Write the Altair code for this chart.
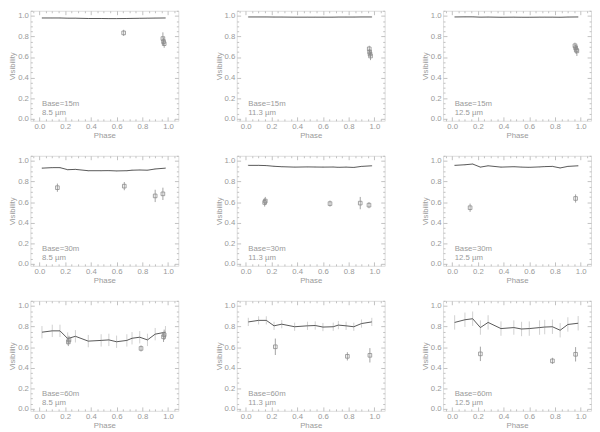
import altair as alt
import pandas as pd

# ---------------- data ----------------
bases = ["Base=15m", "Base=30m", "Base=60m"]
wavelengths = ["8.5 \u00b5m", "11.3 \u00b5m", "12.5 \u00b5m"]

model_phase = [0.02, 0.10, 0.16, 0.22, 0.28, 0.38, 0.48, 0.54, 0.60, 0.68, 0.72, 0.78, 0.84, 0.90, 0.98]

model_15_85 = [0.980, 0.980, 0.980, 0.978, 0.978, 0.975, 0.975, 0.974, 0.974, 0.975, 0.976, 0.977, 0.978, 0.979, 0.980]
model_15_113 = [0.990, 0.990, 0.990, 0.989, 0.989, 0.988, 0.988, 0.988, 0.988, 0.988, 0.989, 0.989, 0.989, 0.990, 0.990]
model_15_125 = [0.990, 0.991, 0.991, 0.988, 0.989, 0.987, 0.988, 0.987, 0.987, 0.988, 0.988, 0.988, 0.987, 0.989, 0.990]
model_30_85 = [0.930, 0.935, 0.935, 0.915, 0.918, 0.905, 0.905, 0.906, 0.903, 0.905, 0.910, 0.912, 0.910, 0.922, 0.930]
model_30_113 = [0.957, 0.957, 0.955, 0.948, 0.944, 0.940, 0.942, 0.941, 0.940, 0.941, 0.938, 0.940, 0.937, 0.947, 0.953]
model_30_125 = [0.957, 0.963, 0.970, 0.940, 0.953, 0.940, 0.944, 0.940, 0.938, 0.942, 0.945, 0.947, 0.932, 0.947, 0.953]
model_60_85 = [0.745, 0.758, 0.758, 0.683, 0.705, 0.658, 0.665, 0.670, 0.652, 0.665, 0.686, 0.696, 0.670, 0.726, 0.745]
model_60_113 = [0.845, 0.860, 0.860, 0.807, 0.823, 0.798, 0.807, 0.810, 0.795, 0.798, 0.814, 0.807, 0.798, 0.829, 0.845]
model_60_125 = [0.840, 0.866, 0.876, 0.790, 0.840, 0.780, 0.790, 0.776, 0.780, 0.790, 0.795, 0.798, 0.764, 0.820, 0.832]
model_vis = [model_15_85, model_15_113, model_15_125,
             model_30_85, model_30_113, model_30_125,
             model_60_85, model_60_113, model_60_125]
model_err = [0.004, 0.004, 0.004, 0.006, 0.006, 0.006, 0.06, 0.04, 0.07]

obs_phase = [
    [0.655, 0.960, 0.965, 0.970],
    [0.960, 0.963, 0.966, 0.970],
    [0.955, 0.960, 0.965, 0.970],
    [0.140, 0.660, 0.900, 0.960],
    [0.147, 0.152, 0.655, 0.890, 0.958],
    [0.140, 0.960],
    [0.225, 0.230, 0.790, 0.965, 0.970],
    [0.230, 0.790, 0.965],
    [0.220, 0.780, 0.960],
]
obs_vis = [
    [0.835, 0.780, 0.750, 0.730],
    [0.680, 0.650, 0.630, 0.610],
    [0.710, 0.690, 0.670, 0.660],
    [0.740, 0.755, 0.660, 0.680],
    [0.596, 0.610, 0.585, 0.590, 0.570],
    [0.545, 0.635],
    [0.650, 0.670, 0.587, 0.700, 0.720],
    [0.603, 0.510, 0.520],
    [0.534, 0.466, 0.530],
]
obs_err = [
    [0.030, 0.060, 0.040, 0.040],
    [0.030, 0.030, 0.030, 0.040],
    [0.030, 0.030, 0.040, 0.050],
    [0.040, 0.040, 0.060, 0.060],
    [0.040, 0.040, 0.030, 0.060, 0.030],
    [0.040, 0.040],
    [0.040, 0.040, 0.030, 0.050, 0.050],
    [0.080, 0.040, 0.070],
    [0.070, 0.030, 0.070],
]

major = [0.0, 0.2, 0.4, 0.6, 0.8, 1.0]
minor = [round(0.05 * i, 2) for i in range(-1, 22) if i % 4 != 0]
minor_x = [v for v in minor if -0.07 <= v <= 1.08]
minor_y = [v for v in minor if -0.02 <= v <= 1.05]

GREY_TXT = "#9a9a9a"
GREY_AX = "#b0b0b0"

xs = alt.Scale(domain=[-0.07, 1.08], nice=False, zero=False)
ys = alt.Scale(domain=[-0.02, 1.05], nice=False, zero=False)


def tick_axis(orient, vals, size):
    return alt.Axis(orient=orient, values=vals, labels=False, title=None,
                    domain=False, grid=False, ticks=True, tickSize=size,
                    offset=-size, tickColor=GREY_AX, tickWidth=0.8,
                    minExtent=0, maxExtent=0)


def lab_axis(orient, title):
    return alt.Axis(orient=orient, values=major, format=".1f", title=title,
                    ticks=False, domain=False, grid=False, labelPadding=2,
                    titlePadding=1, labelColor=GREY_TXT, titleColor=GREY_TXT,
                    labelFontSize=8, titleFontSize=8, labelFont="Liberation Sans",
                    titleFont="Liberation Sans", titleFontWeight="normal",
                    minExtent=0)


W, H = 152, 113


def make_panel(k):
    r, c = divmod(k, 3)
    mdf = pd.DataFrame({"phase": model_phase, "vis": model_vis[k]})
    mdf["lo"] = mdf["vis"] - model_err[k]
    mdf["hi"] = mdf["vis"] + model_err[k]
    odf = pd.DataFrame({"phase": obs_phase[k], "vis": obs_vis[k], "err": obs_err[k]})
    odf["lo"] = odf["vis"] - odf["err"]
    odf["hi"] = odf["vis"] + odf["err"]
    adf = pd.DataFrame({"phase": [0.02, 0.02], "vis": [0.14, 0.055],
                        "label": [bases[r], wavelengths[c]]})

    merr = alt.Chart(mdf).mark_rule(color="#c4c4c4", strokeWidth=0.8).encode(
        x=alt.X("phase:Q", scale=xs, axis=lab_axis("bottom", "Phase")),
        y=alt.Y("lo:Q", scale=ys, axis=lab_axis("left", "Visibility")),
        y2="hi:Q",
    )
    mline = alt.Chart(mdf).mark_line(color="#555555", strokeWidth=1).encode(
        x=alt.X("phase:Q", scale=xs, axis=tick_axis("top", major, 4)),
        y=alt.Y("vis:Q", scale=ys, axis=tick_axis("right", major, 4)),
    )
    oerr = alt.Chart(odf).mark_rule(color="#8a8a8a", strokeWidth=0.8).encode(
        x=alt.X("phase:Q", scale=xs, axis=tick_axis("bottom", major, 4)),
        y=alt.Y("lo:Q", scale=ys, axis=tick_axis("left", major, 4)),
        y2="hi:Q",
    )
    opts = alt.Chart(odf).mark_point(shape="square", filled=False, size=14,
                                     color="#8a8a8a", strokeWidth=0.8, opacity=1).encode(
        x=alt.X("phase:Q", scale=xs, axis=tick_axis("top", minor_x, 2)),
        y=alt.Y("vis:Q", scale=ys, axis=tick_axis("right", minor_y, 2)),
    )
    txt = alt.Chart(adf).mark_text(align="left", baseline="middle", fontSize=8,
                                   font="Liberation Sans", color=GREY_TXT).encode(
        x=alt.X("phase:Q", scale=xs, axis=tick_axis("bottom", minor_x, 2)),
        y=alt.Y("vis:Q", scale=ys, axis=tick_axis("left", minor_y, 2)),
        text="label:N",
    )
    return alt.layer(merr, mline, oerr, opts, txt).resolve_axis(
        x="independent", y="independent"
    ).properties(width=W, height=H)


rows = []
for r in range(3):
    rows.append(alt.hconcat(*[make_panel(3 * r + c) for c in range(3)], spacing=36))

chart = alt.vconcat(*rows, spacing=15).properties(
    padding={"top": -4, "left": 0, "right": 0, "bottom": 0}
).configure_view(
    stroke=GREY_AX, strokeWidth=1
).configure(background="white")

chart.save("out.html", embed_options={"renderer": "svg", "actions": False})
